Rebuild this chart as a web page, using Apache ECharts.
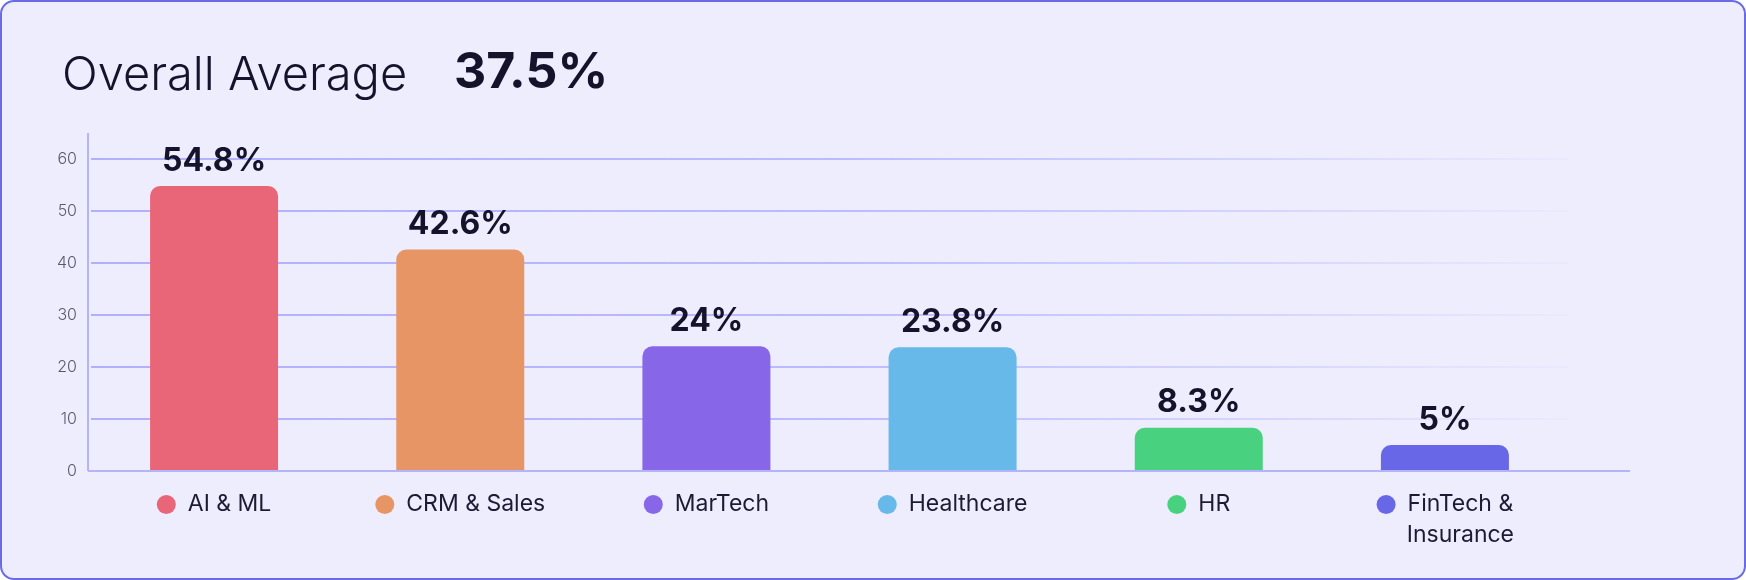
<!DOCTYPE html>
<html>
<head>
<meta charset="utf-8">
<script src="https://cdn.jsdelivr.net/npm/echarts@6/dist/echarts.min.js"></script>
<style>
  html, body { margin: 0; padding: 0; background: #ffffff; }
  #card {
    position: absolute; left: 0; top: 0; width: 1746px; height: 580px;
    box-sizing: border-box; border: 2px solid #6b6be6; border-radius: 14px;
    background: #eeedfe;
  }
  #chart { position: absolute; left: 0; top: 0; width: 1746px; height: 580px; }
</style>
</head>
<body>
<div id="card"></div>
<div id="chart"></div>
<script>
// ---- data ----
const titleText = 'Overall Average';
const overallAverage = '37.5%';
const categories = ['AI & ML', 'CRM & Sales', 'MarTech', 'Healthcare', 'HR', 'FinTech &\nInsurance'];
const values = [54.8, 42.6, 24, 23.8, 8.3, 5];
const barColors = ['#e86678', '#e89565', '#8866e8', '#66b9e8', '#48d17f', '#6867e8'];
const yMin = 0, yMax = 65, yInterval = 10;

// ---- chart ----
const W = 1746, H = 580;
const gridLeft = 91, gridRight = 178, gridTop = 133, gridBottom = 109;
const axisLeft = 88;
const textDark = '#14132b';
const axisColor = '#b4b4fb';

const rich = {
  s: { width: 19, height: 19 },
  t: { fontSize: 23, fontFamily: 'Inter', color: '#1c1b33', padding: [0, 0, 0, 12], lineHeight: 31 }
};
barColors.forEach((c, i) => {
  rich['d' + i] = { width: 19, height: 19, borderRadius: 10, backgroundColor: c };
});

const chart = echarts.init(document.getElementById('chart'), null, { renderer: 'canvas' });
const option = {
  backgroundColor: 'transparent',
  animation: false,
  title: [
    { text: titleText, left: 57, top: 47,
      textStyle: { fontFamily: 'Inter', fontSize: 47, fontWeight: 300, color: textDark } },
    { text: overallAverage, left: 449, top: 43,
      textStyle: { fontFamily: 'Inter', fontSize: 50, fontWeight: 700, color: textDark } }
  ],
  grid: { left: gridLeft, right: gridRight, top: gridTop, bottom: gridBottom, containLabel: false },
  xAxis: {
    type: 'category',
    data: categories,
    axisLine: { show: false },
    axisTick: { show: false },
    axisLabel: {
      interval: 0,
      margin: 18,
      formatter: function (value, index) {
        const lines = String(value).split('\n');
        return lines.map((ln, k) => (k === 0 ? '{d' + index + '|}' : '{s|}') + '{t|' + ln + '}').join('\n');
      },
      rich: rich
    }
  },
  yAxis: {
    type: 'value',
    min: yMin, max: yMax, interval: yInterval,
    axisLine: { show: false },
    axisTick: { show: false },
    axisLabel: {
      showMaxLabel: false,
      margin: 14,
      fontFamily: 'Inter', fontSize: 16, fontWeight: 300, color: '#5a5a72',
      verticalAlign: 'middle',
      padding: [0, 0, 11, 0]
    },
    splitLine: {
      show: true,
      showMaxLine: false,
      showMinLine: false,
      lineStyle: {
        width: 1.8,
        color: new echarts.graphic.LinearGradient(0, 0, 1, 0, [
          { offset: 0, color: 'rgba(176,176,255,1)' },
          { offset: 0.5, color: 'rgba(180,180,255,0.9)' },
          { offset: 0.8, color: 'rgba(190,190,255,0.5)' },
          { offset: 1, color: 'rgba(200,200,255,0.1)' }
        ])
      }
    }
  },
  series: [{
    type: 'bar',
    data: values.map((v, i) => ({ value: v, itemStyle: { color: barColors[i] } })),
    barWidth: 128,
    itemStyle: { borderRadius: [10, 10, 0, 0] },
    label: {
      show: true,
      position: 'top',
      distance: 9,
      formatter: p => p.value + '%',
      fontFamily: 'Inter', fontSize: 32, fontWeight: 700, color: textDark
    }
  }]
};
chart.setOption(option);

// axis lines: y axis from the top of the grid to the baseline, x baseline extended past the plot
const baseY = H - gridBottom;
const axisEnd = W - gridRight;
chart.setOption({
  graphic: [
    { type: 'line', shape: { x1: axisLeft, y1: gridTop, x2: axisLeft, y2: baseY },
      style: { stroke: axisColor, lineWidth: 2 }, silent: true, z: 5 },
    { type: 'line', shape: { x1: axisLeft, y1: baseY, x2: axisEnd + 62, y2: baseY },
      style: { stroke: axisColor, lineWidth: 2 }, silent: true, z: 5 }
  ]
});
</script>
</body>
</html>
